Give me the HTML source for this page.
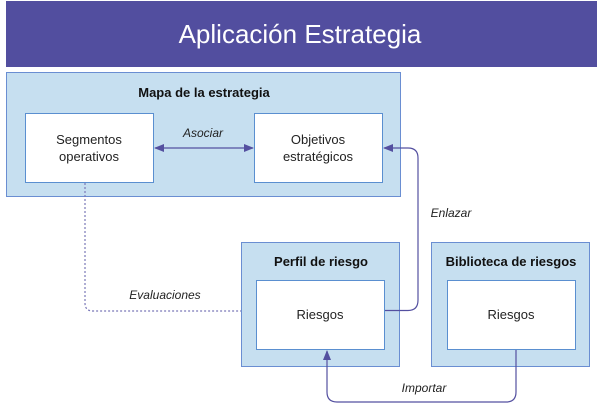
<!DOCTYPE html>
<html><head><meta charset="utf-8"><style>
body{margin:0;background:#fff;}
svg{display:block;font-family:"Liberation Sans",sans-serif;}
</style></head><body>
<svg width="600" height="404" viewBox="0 0 600 404" xmlns="http://www.w3.org/2000/svg">
<defs>
<marker id="a" markerWidth="10" markerHeight="8" refX="9" refY="4" orient="auto" markerUnits="userSpaceOnUse"><path d="M0,0 L10,4 L0,8 z" fill="#5450a0"/></marker>
<marker id="b" markerWidth="10" markerHeight="8" refX="1" refY="4" orient="auto" markerUnits="userSpaceOnUse"><path d="M10,0 L0,4 L10,8 z" fill="#5450a0"/></marker>
</defs>
<rect x="6" y="1" width="591" height="66" fill="#524e9f"/>
<text x="300" y="43" font-size="26" fill="#fff" text-anchor="middle">Aplicación Estrategia</text>
<rect x="6.5" y="72.5" width="394" height="124" fill="#c6dff0" stroke="#6a8ed2"/>
<text x="204" y="97" font-size="13" font-weight="bold" text-anchor="middle" fill="#111">Mapa de la estrategia</text>
<rect x="25.5" y="113.5" width="128" height="69" fill="#fff" stroke="#5a8fd0"/>
<text x="89" y="144" font-size="13" text-anchor="middle" fill="#222">Segmentos</text>
<text x="89" y="161" font-size="13" text-anchor="middle" fill="#222">operativos</text>
<rect x="254.5" y="113.5" width="128" height="69" fill="#fff" stroke="#5a8fd0"/>
<text x="318" y="144" font-size="13" text-anchor="middle" fill="#222">Objetivos</text>
<text x="318" y="161" font-size="13" text-anchor="middle" fill="#222">estratégicos</text>
<line x1="155" y1="148" x2="253" y2="148" stroke="#5450a0" stroke-width="1.3" marker-start="url(#b)" marker-end="url(#a)"/>
<text x="203" y="137" font-size="12" font-style="italic" text-anchor="middle" fill="#222">Asociar</text>
<rect x="241.5" y="242.5" width="158" height="124" fill="#c6dff0" stroke="#6a8ed2"/>
<text x="321" y="266" font-size="13" font-weight="bold" text-anchor="middle" fill="#111">Perfil de riesgo</text>
<rect x="256.5" y="280.5" width="128" height="69" fill="#fff" stroke="#5a8fd0"/>
<text x="320" y="319" font-size="13" text-anchor="middle" fill="#222">Riesgos</text>
<rect x="431.5" y="242.5" width="158" height="124" fill="#c6dff0" stroke="#6a8ed2"/>
<text x="511" y="266" font-size="13" font-weight="bold" text-anchor="middle" fill="#111">Biblioteca de riesgos</text>
<rect x="447.5" y="280.5" width="128" height="69" fill="#fff" stroke="#5a8fd0"/>
<text x="511" y="319" font-size="13" text-anchor="middle" fill="#222">Riesgos</text>
<path d="M385,310.5 H408 Q418,310.5 418,300 V158 Q418,148 408,148 H384" fill="none" stroke="#5450a0" stroke-width="1.2" marker-end="url(#a)"/>
<text x="451" y="217" font-size="12" font-style="italic" text-anchor="middle" fill="#222">Enlazar</text>
<path d="M85,183 V303 Q85,311 93,311 H241" fill="none" stroke="#7a78b8" stroke-width="1.2" stroke-dasharray="2,2"/>
<text x="165" y="299" font-size="12" font-style="italic" text-anchor="middle" fill="#222">Evaluaciones</text>
<path d="M516,350 V392 Q516,402 506,402 H337 Q327,402 327,392 V351" fill="none" stroke="#5450a0" stroke-width="1.2" marker-end="url(#a)"/>
<text x="424" y="392" font-size="12" font-style="italic" text-anchor="middle" fill="#222">Importar</text>
</svg>
</body></html>
